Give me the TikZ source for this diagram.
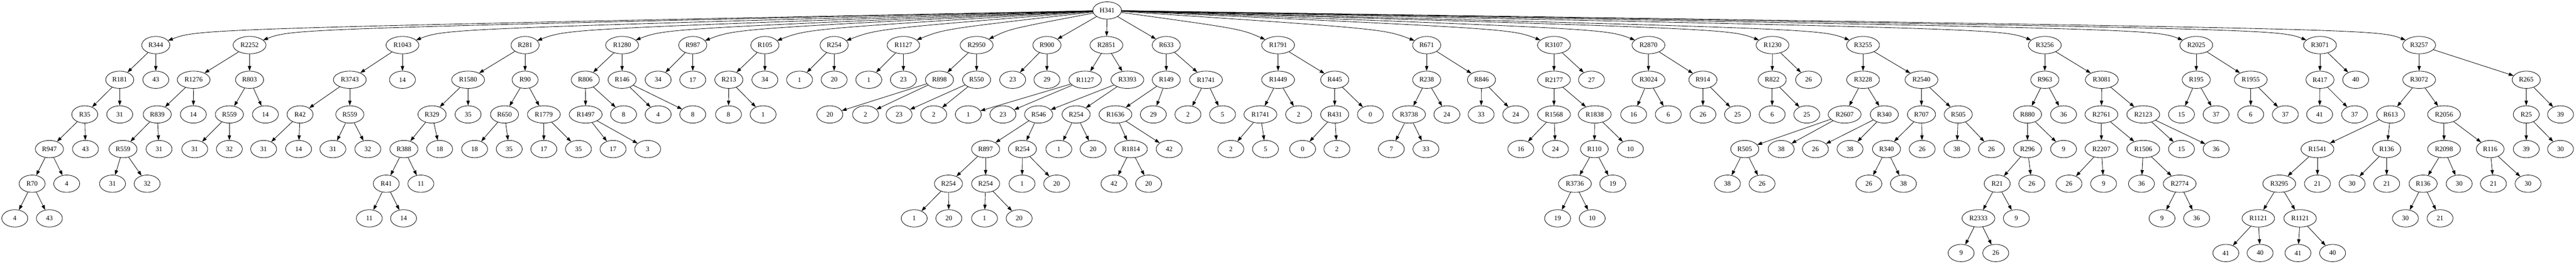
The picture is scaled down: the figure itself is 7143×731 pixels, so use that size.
\documentclass[tikz,border=0pt]{standalone}
\usepackage{fontspec}
\setmainfont{Liberation Serif}
\usetikzlibrary{shapes.geometric, arrows.meta}

\begin{document}
\begin{tikzpicture}[
  x = 0.75pt,
  y = 0.75pt,
  vert/.style = {
    shape = ellipse,
    draw = black,
    minimum width = 54pt,
    minimum height = 36pt,
    inner xsep = 5.5pt,
    inner ysep = 1pt,
    font = \fontsize{14pt}{16pt}\selectfont,
  },
  arr/.style = {
    -{Triangle[length = 10pt, width = 7pt]}
  },
  every path/.style = {
    line width = 0.9pt
  }
]
  \useasboundingbox (0, 0) rectangle (7143, -731);

  \node[vert] (root) at (3070, -29) {H341};

  % level 1
  \node[vert] (r344) at (432, -125) {R344};
  \node[vert] (r2252) at (692, -125) {R2252};
  \node[vert] (r1043) at (1116, -125) {R1043};
  \node[vert] (r281) at (1456, -125) {R281};
  \node[vert] (r1280) at (1725, -125) {R1280};
  \node[vert] (r987) at (1921, -125) {R987};
  \node[vert] (r105) at (2121, -125) {R105};
  \node[vert] (r254a) at (2313, -125) {R254};
  \node[vert] (r1127a) at (2505, -125) {R1127};
  \node[vert] (r2950) at (2708, -125) {R2950};
  \node[vert] (r900) at (2903, -125) {R900};
  \node[vert] (r2851) at (3068, -125) {R2851};
  \node[vert] (r633) at (3234, -125) {R633};
  \node[vert] (r1791) at (3544, -125) {R1791};
  \node[vert] (r671) at (3956, -125) {R671};
  \node[vert] (r3107) at (4309, -125) {R3107};
  \node[vert] (r2870) at (4571, -125) {R2870};
  \node[vert] (r1230) at (4915, -125) {R1230};
  \node[vert] (r3255) at (5166, -125) {R3255};
  \node[vert] (r3256) at (5670, -125) {R3256};
  \node[vert] (r2025) at (6090, -125) {R2025};
  \node[vert] (r3071) at (6433, -125) {R3071};
  \node[vert] (r3257) at (6708, -125) {R3257};

  % level 2
  \node[vert] (r181) at (332, -221) {R181};
  \node[vert] (a43) at (432, -221) {43};
  \node[vert] (r1276) at (537, -221) {R1276};
  \node[vert] (r803) at (692, -221) {R803};
  \node[vert] (r3743) at (970, -221) {R3743};
  \node[vert] (b14) at (1116, -221) {14};
  \node[vert] (r1580) at (1298, -221) {R1580};
  \node[vert] (r90) at (1456, -221) {R90};
  \node[vert] (r806) at (1623, -221) {R806};
  \node[vert] (r146) at (1725, -221) {R146};
  \node[vert] (c34) at (1825, -221) {34};
  \node[vert] (c17) at (1921, -221) {17};
  \node[vert] (r213) at (2021, -221) {R213};
  \node[vert] (d34) at (2121, -221) {34};
  \node[vert] (d1) at (2217, -221) {1};
  \node[vert] (d20) at (2313, -221) {20};
  \node[vert] (e1) at (2409, -221) {1};
  \node[vert] (e23) at (2505, -221) {23};
  \node[vert] (r898) at (2605, -221) {R898};
  \node[vert] (r550) at (2708, -221) {R550};
  \node[vert] (f23) at (2808, -221) {23};
  \node[vert] (f29) at (2903, -221) {29};
  \node[vert] (r1127b) at (3009, -221) {R1127};
  \node[vert] (r3393) at (3126, -221) {R3393};
  \node[vert] (r149) at (3234, -221) {R149};
  \node[vert] (r1741a) at (3344, -221) {R1741};
  \node[vert] (r1449) at (3544, -221) {R1449};
  \node[vert] (r445) at (3701, -221) {R445};
  \node[vert] (r238) at (3956, -221) {R238};
  \node[vert] (r846) at (4108, -221) {R846};
  \node[vert] (r2177) at (4309, -221) {R2177};
  \node[vert] (g27) at (4413, -221) {27};
  \node[vert] (r3024) at (4571, -221) {R3024};
  \node[vert] (r914) at (4722, -221) {R914};
  \node[vert] (r822) at (4914, -221) {R822};
  \node[vert] (h26) at (5015, -221) {26};
  \node[vert] (r3228) at (5166, -221) {R3228};
  \node[vert] (r2540) at (5328, -221) {R2540};
  \node[vert] (r963) at (5670, -221) {R963};
  \node[vert] (r3081) at (5828, -221) {R3081};
  \node[vert] (r195) at (6090, -221) {R195};
  \node[vert] (r1955) at (6241, -221) {R1955};
  \node[vert] (r417) at (6433, -221) {R417};
  \node[vert] (i40) at (6532, -221) {40};
  \node[vert] (r3072) at (6708, -221) {R3072};
  \node[vert] (r265) at (7005, -221) {R265};

  % level 3
  \node[vert] (r35) at (235, -317) {R35};
  \node[vert] (j31) at (332, -317) {31};
  \node[vert] (r839) at (436, -317) {R839};
  \node[vert] (j14) at (536, -317) {14};
  \node[vert] (r559a) at (636, -317) {R559};
  \node[vert] (k14) at (736, -317) {14};
  \node[vert] (r42) at (832, -317) {R42};
  \node[vert] (r559b) at (970, -317) {R559};
  \node[vert] (r329) at (1198, -317) {R329};
  \node[vert] (m35) at (1298, -317) {35};
  \node[vert] (r650) at (1399, -317) {R650};
  \node[vert] (r1779) at (1508, -317) {R1779};
  \node[vert] (r1497) at (1624, -317) {R1497};
  \node[vert] (m8) at (1729, -317) {8};
  \node[vert] (n4) at (1825, -317) {4};
  \node[vert] (n8) at (1921, -317) {8};
  \node[vert] (o8) at (2020, -317) {8};
  \node[vert] (o1) at (2116, -317) {1};
  \node[vert] (p20) at (2301, -317) {20};
  \node[vert] (p2) at (2400, -317) {2};
  \node[vert] (q23) at (2493, -317) {23};
  \node[vert] (q2) at (2589, -317) {2};
  \node[vert] (s1) at (2685, -317) {1};
  \node[vert] (s23) at (2781, -317) {23};
  \node[vert] (r546) at (2880, -317) {R546};
  \node[vert] (r254b) at (2984, -317) {R254};
  \node[vert] (r1636) at (3093, -317) {R1636};
  \node[vert] (t29) at (3198, -317) {29};
  \node[vert] (u2) at (3294, -317) {2};
  \node[vert] (u5) at (3390, -317) {5};
  \node[vert] (r1741b) at (3495, -317) {R1741};
  \node[vert] (v2) at (3601, -317) {2};
  \node[vert] (r431) at (3701, -317) {R431};
  \node[vert] (w0) at (3800, -317) {0};
  \node[vert] (r3738) at (3907, -317) {R3738};
  \node[vert] (x24) at (4012, -317) {24};
  \node[vert] (x33) at (4107, -317) {33};
  \node[vert] (y24) at (4203, -317) {24};
  \node[vert] (r1568) at (4309, -317) {R1568};
  \node[vert] (r1838) at (4422, -317) {R1838};
  \node[vert] (z16) at (4530, -317) {16};
  \node[vert] (z6) at (4626, -317) {6};
  \node[vert] (aa26) at (4722, -317) {26};
  \node[vert] (aa25) at (4818, -317) {25};
  \node[vert] (ab6) at (4914, -317) {6};
  \node[vert] (ab25) at (5010, -317) {25};
  \node[vert] (r2607) at (5115, -317) {R2607};
  \node[vert] (r340a) at (5225, -317) {R340};
  \node[vert] (r707) at (5328, -317) {R707};
  \node[vert] (r505b) at (5430, -317) {R505};
  \node[vert] (r880) at (5622, -317) {R880};
  \node[vert] (ac36) at (5722, -317) {36};
  \node[vert] (r2761) at (5827, -317) {R2761};
  \node[vert] (r2123) at (5943, -317) {R2123};
  \node[vert] (ad15) at (6049, -317) {15};
  \node[vert] (ad37) at (6145, -317) {37};
  \node[vert] (ae6) at (6241, -317) {6};
  \node[vert] (ae37) at (6337, -317) {37};
  \node[vert] (af41) at (6432, -317) {41};
  \node[vert] (af37) at (6529, -317) {37};
  \node[vert] (r613) at (6629, -317) {R613};
  \node[vert] (r2056) at (6777, -317) {R2056};
  \node[vert] (r25) at (7005, -317) {R25};
  \node[vert] (ag39) at (7100, -317) {39};

  % level 4
  \node[vert] (r947) at (137, -413) {R947};
  \node[vert] (l43) at (237, -413) {43};
  \node[vert] (r559c) at (341, -413) {R559};
  \node[vert] (l31) at (441, -413) {31};
  \node[vert] (m31) at (540, -413) {31};
  \node[vert] (m32) at (636, -413) {32};
  \node[vert] (n31) at (731, -413) {31};
  \node[vert] (n14) at (828, -413) {14};
  \node[vert] (o31) at (923, -413) {31};
  \node[vert] (o32) at (1020, -413) {32};
  \node[vert] (r388) at (1120, -413) {R388};
  \node[vert] (p18) at (1219, -413) {18};
  \node[vert] (q18) at (1316, -413) {18};
  \node[vert] (q35) at (1412, -413) {35};
  \node[vert] (s17) at (1508, -413) {17};
  \node[vert] (s35) at (1604, -413) {35};
  \node[vert] (t17) at (1700, -413) {17};
  \node[vert] (t3) at (1796, -413) {3};
  \node[vert] (r897) at (2733, -413) {R897};
  \node[vert] (r254c) at (2835, -413) {R254};
  \node[vert] (u1) at (2936, -413) {1};
  \node[vert] (u20) at (3031, -413) {20};
  \node[vert] (r1814) at (3136, -413) {R1814};
  \node[vert] (v42) at (3242, -413) {42};
  \node[vert] (w2) at (3413, -413) {2};
  \node[vert] (w5) at (3509, -413) {5};
  \node[vert] (x0) at (3612, -413) {0};
  \node[vert] (x2) at (3707, -413) {2};
  \node[vert] (y7) at (3858, -413) {7};
  \node[vert] (y33) at (3954, -413) {33};
  \node[vert] (z16b) at (4217, -413) {16};
  \node[vert] (z24) at (4313, -413) {24};
  \node[vert] (r110) at (4421, -413) {R110};
  \node[vert] (ah10) at (4521, -413) {10};
  \node[vert] (r505a) at (4838, -413) {R505};
  \node[vert] (ai38) at (4939, -413) {38};
  \node[vert] (aj26) at (5034, -413) {26};
  \node[vert] (aj38) at (5130, -413) {38};
  \node[vert] (r340b) at (5231, -413) {R340};
  \node[vert] (ak26) at (5330, -413) {26};
  \node[vert] (al38) at (5426, -413) {38};
  \node[vert] (al26) at (5522, -413) {26};
  \node[vert] (r296) at (5622, -413) {R296};
  \node[vert] (am9) at (5722, -413) {9};
  \node[vert] (r2207) at (5827, -413) {R2207};
  \node[vert] (r1506) at (5943, -413) {R1506};
  \node[vert] (an15) at (6049, -413) {15};
  \node[vert] (an36) at (6145, -413) {36};
  \node[vert] (r1541) at (6426, -413) {R1541};
  \node[vert] (r136a) at (6618, -413) {R136};
  \node[vert] (r2098) at (6777, -413) {R2098};
  \node[vert] (r116) at (6905, -413) {R116};
  \node[vert] (ao39) at (7005, -413) {39};
  \node[vert] (ao30) at (7100, -413) {30};

  % level 5
  \node[vert] (r70) at (89, -509) {R70};
  \node[vert] (ba4) at (185, -509) {4};
  \node[vert] (bb31) at (312, -509) {31};
  \node[vert] (bb32) at (408, -509) {32};
  \node[vert] (r41) at (1071, -509) {R41};
  \node[vert] (bc11) at (1167, -509) {11};
  \node[vert] (r254d) at (2630, -509) {R254};
  \node[vert] (r254e) at (2733, -509) {R254};
  \node[vert] (bd1) at (2834, -509) {1};
  \node[vert] (bd20) at (2930, -509) {20};
  \node[vert] (be42) at (3089, -509) {42};
  \node[vert] (be20) at (3185, -509) {20};
  \node[vert] (r3736) at (4367, -509) {R3736};
  \node[vert] (bf19) at (4472, -509) {19};
  \node[vert] (bg38) at (4790, -509) {38};
  \node[vert] (bg26) at (4886, -509) {26};
  \node[vert] (bh26) at (5182, -509) {26};
  \node[vert] (bh38) at (5278, -509) {38};
  \node[vert] (r21) at (5538, -509) {R21};
  \node[vert] (bi26) at (5634, -509) {26};
  \node[vert] (bj26) at (5737, -509) {26};
  \node[vert] (bj9) at (5833, -509) {9};
  \node[vert] (bk36) at (5938, -509) {36};
  \node[vert] (r2774) at (6044, -509) {R2774};
  \node[vert] (r3295) at (6320, -509) {R3295};
  \node[vert] (bl21) at (6426, -509) {21};
  \node[vert] (bm30) at (6522, -509) {30};
  \node[vert] (bm21) at (6618, -509) {21};
  \node[vert] (r136b) at (6719, -509) {R136};
  \node[vert] (bn30) at (6819, -509) {30};
  \node[vert] (bo21) at (6914, -509) {21};
  \node[vert] (bo30) at (7010, -509) {30};

  % level 6
  \node[vert] (ca4) at (41, -605) {4};
  \node[vert] (ca43) at (137, -605) {43};
  \node[vert] (cb11) at (1024, -605) {11};
  \node[vert] (cb14) at (1119, -605) {14};
  \node[vert] (cc1) at (2535, -605) {1};
  \node[vert] (cc20) at (2631, -605) {20};
  \node[vert] (cd1) at (2730, -605) {1};
  \node[vert] (cd20) at (2826, -605) {20};
  \node[vert] (ce19) at (4319, -605) {19};
  \node[vert] (ce10) at (4415, -605) {10};
  \node[vert] (r2333) at (5486, -605) {R2333};
  \node[vert] (cf9) at (5591, -605) {9};
  \node[vert] (cg9) at (5995, -605) {9};
  \node[vert] (cg36) at (6091, -605) {36};
  \node[vert] (r1121a) at (6262, -605) {R1121};
  \node[vert] (r1121b) at (6378, -605) {R1121};
  \node[vert] (ch30) at (6670, -605) {30};
  \node[vert] (ch21) at (6766, -605) {21};

  % level 7
  \node[vert] (da9) at (5438, -701) {9};
  \node[vert] (da26) at (5534, -701) {26};
  \node[vert] (db41) at (6172, -701) {41};
  \node[vert] (db40) at (6267, -701) {40};
  \node[vert] (dc41) at (6372, -701) {41};
  \node[vert] (dc40) at (6468, -701) {40};

  % root fan, kept above the first row
  \draw[arr] (root) .. controls (552, -80) .. (r344);
  \draw[arr] (root) .. controls (812, -80) .. (r2252);
  \draw[arr] (root) .. controls (1236, -80) .. (r1043);
  \draw[arr] (root) .. controls (1576, -80) .. (r281);
  \draw[arr] (root) .. controls (1845, -80) .. (r1280);
  \draw[arr] (root) .. controls (2041, -80) .. (r987);
  \draw[arr] (root) .. controls (2241, -80) .. (r105);
  \draw[arr] (root) .. controls (2433, -80) .. (r254a);
  \draw[arr] (root) .. controls (2620, -80) .. (r1127a);
  \draw[arr] (root) .. controls (2800, -80) .. (r2950);
  \draw[arr] (root) edge (r900) edge (r2851) edge (r633);
  \draw[arr] (root) .. controls (3440, -80) .. (r1791);
  \draw[arr] (root) .. controls (3836, -80) .. (r671);
  \draw[arr] (root) .. controls (4189, -80) .. (r3107);
  \draw[arr] (root) .. controls (4451, -80) .. (r2870);
  \draw[arr] (root) .. controls (4795, -80) .. (r1230);
  \draw[arr] (root) .. controls (5046, -80) .. (r3255);
  \draw[arr] (root) .. controls (5550, -80) .. (r3256);
  \draw[arr] (root) .. controls (5970, -80) .. (r2025);
  \draw[arr] (root) .. controls (6313, -80) .. (r3071);
  \draw[arr] (root) .. controls (6588, -80) .. (r3257);

  \draw[arr] (r344) edge (r181) edge (a43);
  \draw[arr] (r2252) edge (r1276) edge (r803);
  \draw[arr] (r1043) edge (r3743) edge (b14);
  \draw[arr] (r281) edge (r1580) edge (r90);
  \draw[arr] (r1280) edge (r806) edge (r146);
  \draw[arr] (r987) edge (c34) edge (c17);
  \draw[arr] (r105) edge (r213) edge (d34);
  \draw[arr] (r254a) edge (d1) edge (d20);
  \draw[arr] (r1127a) edge (e1) edge (e23);
  \draw[arr] (r2950) edge (r898) edge (r550);
  \draw[arr] (r900) edge (f23) edge (f29);
  \draw[arr] (r2851) edge (r1127b) edge (r3393);
  \draw[arr] (r633) edge (r149) edge (r1741a);
  \draw[arr] (r1791) edge (r1449) edge (r445);
  \draw[arr] (r671) edge (r238) edge (r846);
  \draw[arr] (r3107) edge (r2177) edge (g27);
  \draw[arr] (r2870) edge (r3024) edge (r914);
  \draw[arr] (r1230) edge (r822) edge (h26);
  \draw[arr] (r3255) edge (r3228) edge (r2540);
  \draw[arr] (r3256) edge (r963) edge (r3081);
  \draw[arr] (r2025) edge (r195) edge (r1955);
  \draw[arr] (r3071) edge (r417) edge (i40);
  \draw[arr] (r3257) edge (r3072) edge (r265);

  \draw[arr] (r181) edge (r35) edge (j31);
  \draw[arr] (r1276) edge (r839) edge (j14);
  \draw[arr] (r803) edge (r559a) edge (k14);
  \draw[arr] (r3743) edge (r42) edge (r559b);
  \draw[arr] (r1580) edge (r329) edge (m35);
  \draw[arr] (r90) edge (r650) edge (r1779);
  \draw[arr] (r806) edge (r1497) edge (m8);
  \draw[arr] (r146) edge (n4) edge (n8);
  \draw[arr] (r213) edge (o8) edge (o1);
  \draw[arr] (r898) edge (p20) edge (p2);
  \draw[arr] (r550) edge (q23) edge (q2);
  \draw[arr] (r1127b) edge (s1) edge (s23);
  \draw[arr] (r3393) edge (r546) edge (r254b);
  \draw[arr] (r149) edge (r1636) edge (t29);
  \draw[arr] (r1741a) edge (u2) edge (u5);
  \draw[arr] (r1449) edge (r1741b) edge (v2);
  \draw[arr] (r445) edge (r431) edge (w0);
  \draw[arr] (r238) edge (r3738) edge (x24);
  \draw[arr] (r846) edge (x33) edge (y24);
  \draw[arr] (r2177) edge (r1568) edge (r1838);
  \draw[arr] (r3024) edge (z16) edge (z6);
  \draw[arr] (r914) edge (aa26) edge (aa25);
  \draw[arr] (r822) edge (ab6) edge (ab25);
  \draw[arr] (r3228) edge (r2607) edge (r340a);
  \draw[arr] (r2540) edge (r707) edge (r505b);
  \draw[arr] (r963) edge (r880) edge (ac36);
  \draw[arr] (r3081) edge (r2761) edge (r2123);
  \draw[arr] (r195) edge (ad15) edge (ad37);
  \draw[arr] (r1955) edge (ae6) edge (ae37);
  \draw[arr] (r417) edge (af41) edge (af37);
  \draw[arr] (r3072) edge (r613) edge (r2056);
  \draw[arr] (r265) edge (r25) edge (ag39);

  \draw[arr] (r35) edge (r947) edge (l43);
  \draw[arr] (r839) edge (r559c) edge (l31);
  \draw[arr] (r559a) edge (m31) edge (m32);
  \draw[arr] (r42) edge (n31) edge (n14);
  \draw[arr] (r559b) edge (o31) edge (o32);
  \draw[arr] (r329) edge (r388) edge (p18);
  \draw[arr] (r650) edge (q18) edge (q35);
  \draw[arr] (r1779) edge (s17) edge (s35);
  \draw[arr] (r1497) edge (t17) edge (t3);
  \draw[arr] (r546) edge (r897) edge (r254c);
  \draw[arr] (r254b) edge (u1) edge (u20);
  \draw[arr] (r1636) edge (r1814) edge (v42);
  \draw[arr] (r1741b) edge (w2) edge (w5);
  \draw[arr] (r431) edge (x0) edge (x2);
  \draw[arr] (r3738) edge (y7) edge (y33);
  \draw[arr] (r1568) edge (z16b) edge (z24);
  \draw[arr] (r1838) edge (r110) edge (ah10);
  \draw[arr] (r2607) edge (r505a) edge (ai38);
  \draw[arr] (r340a) edge (aj26) edge (aj38);
  \draw[arr] (r707) edge (r340b) edge (ak26);
  \draw[arr] (r505b) edge (al38) edge (al26);
  \draw[arr] (r880) edge (r296) edge (am9);
  \draw[arr] (r2761) edge (r2207) edge (r1506);
  \draw[arr] (r2123) edge (an15) edge (an36);
  \draw[arr] (r613) edge (r1541) edge (r136a);
  \draw[arr] (r2056) edge (r2098) edge (r116);
  \draw[arr] (r25) edge (ao39) edge (ao30);

  \draw[arr] (r947) edge (r70) edge (ba4);
  \draw[arr] (r559c) edge (bb31) edge (bb32);
  \draw[arr] (r388) edge (r41) edge (bc11);
  \draw[arr] (r897) edge (r254d) edge (r254e);
  \draw[arr] (r254c) edge (bd1) edge (bd20);
  \draw[arr] (r1814) edge (be42) edge (be20);
  \draw[arr] (r110) edge (r3736) edge (bf19);
  \draw[arr] (r505a) edge (bg38) edge (bg26);
  \draw[arr] (r340b) edge (bh26) edge (bh38);
  \draw[arr] (r296) edge (r21) edge (bi26);
  \draw[arr] (r2207) edge (bj26) edge (bj9);
  \draw[arr] (r1506) edge (bk36) edge (r2774);
  \draw[arr] (r1541) edge (r3295) edge (bl21);
  \draw[arr] (r136a) edge (bm30) edge (bm21);
  \draw[arr] (r2098) edge (r136b) edge (bn30);
  \draw[arr] (r116) edge (bo21) edge (bo30);

  \draw[arr] (r70) edge (ca4) edge (ca43);
  \draw[arr] (r41) edge (cb11) edge (cb14);
  \draw[arr] (r254d) edge (cc1) edge (cc20);
  \draw[arr] (r254e) edge (cd1) edge (cd20);
  \draw[arr] (r3736) edge (ce19) edge (ce10);
  \draw[arr] (r21) edge (r2333) edge (cf9);
  \draw[arr] (r2774) edge (cg9) edge (cg36);
  \draw[arr] (r3295) edge (r1121a) edge (r1121b);
  \draw[arr] (r136b) edge (ch30) edge (ch21);

  \draw[arr] (r2333) edge (da9) edge (da26);
  \draw[arr] (r1121a) edge (db41) edge (db40);
  \draw[arr] (r1121b) edge (dc41) edge (dc40);
\end{tikzpicture}
\end{document}
